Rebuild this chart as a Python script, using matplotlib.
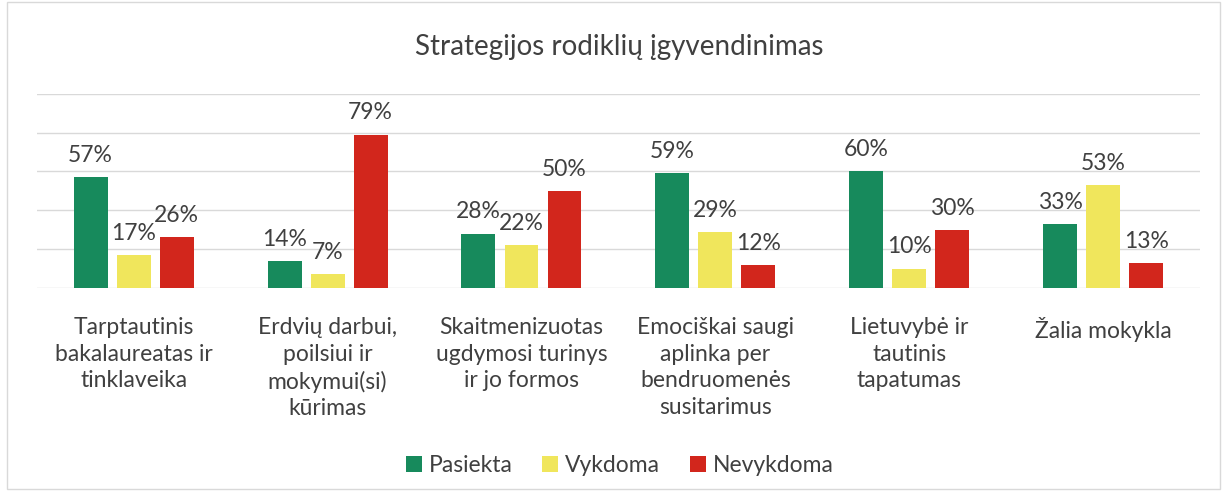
import matplotlib.pyplot as plt
import numpy as np
from matplotlib.patches import Rectangle

plt.rcParams['font.family'] = ['Lato', 'DejaVu Sans']

categories = [
    "Tarptautinis\nbakalaureatas ir\ntinklaveika",
    "Erdvių darbui,\npoilsiui ir\nmokymui(si)\nkūrimas",
    "Skaitmenizuotas\nugdymosi turinys\nir jo formos",
    "Emociškai saugi\naplinka per\nbendruomenės\nsusitarimus",
    "Lietuvybė ir\ntautinis\ntapatumas",
    "Žalia mokykla",
]
pasiekta = [57, 14, 28, 59, 60, 33]
vykdoma = [17, 7, 22, 29, 10, 53]
nevykdoma = [26, 79, 50, 12, 30, 13]

series_names = ["Pasiekta", "Vykdoma", "Nevykdoma"]
colors = ["#178a5c", "#f0e65c", "#d2261c"]
text_color = "#404040"

fig = plt.figure(figsize=(12.27, 4.99), dpi=100)
ax = fig.add_axes([0.030, 0.423, 0.948, 0.389])

x = np.arange(len(categories))
width = 0.175
step = 0.222

for i, (vals, name, col) in enumerate(zip([pasiekta, vykdoma, nevykdoma], series_names, colors)):
    pos = x + (i - 1) * step
    bars = ax.bar(pos, vals, width, color=col, label=name, zorder=3)
    for b, v in zip(bars, vals):
        ax.annotate(f"{v}%", (b.get_x() + b.get_width() / 2, v),
                    xytext=(0, 8), textcoords="offset points",
                    ha="center", va="bottom", fontsize=16.5, color=text_color)

ax.set_xlim(-0.5, len(categories) - 0.5)
ax.set_ylim(0, 100)
ax.set_yticks(np.arange(0, 101, 20))
ax.yaxis.grid(True, color="#d9d9d9", linewidth=1, zorder=0)
ax.set_yticklabels([])
ax.tick_params(axis="y", length=0)
ax.tick_params(axis="x", length=0, pad=21)
ax.set_xticks(x)
ax.set_xticklabels(categories, fontsize=16.5, color=text_color, linespacing=1.33, va="top")
for s in ax.spines.values():
    s.set_visible(False)

fig.text(0.505, 0.905, "Strategijos rodiklių įgyvendinimas", ha="center", va="center",
         fontsize=20, color=text_color)

fig.legend(loc="center", bbox_to_anchor=(0.505, 0.068), ncol=3, frameon=False,
           fontsize=16.5, handlelength=0.7, handleheight=0.7, handletextpad=0.3,
           columnspacing=1.3, labelcolor=text_color)

fig.patches.append(Rectangle((0.006, 0.02), 0.988, 0.975, transform=fig.transFigure,
                             fill=False, edgecolor="#d9d9d9", linewidth=1))

fig.savefig("out.png", dpi=100, facecolor="white")
